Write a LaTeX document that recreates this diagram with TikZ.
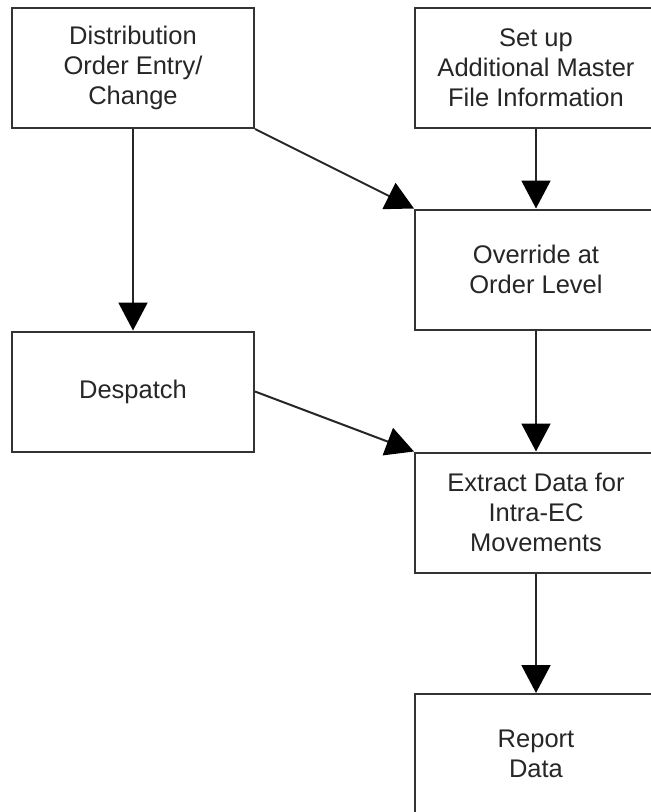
\documentclass[tikz,border=0pt]{standalone}
\usepackage{fontspec}
\setmainfont{Liberation Sans}
\usetikzlibrary{arrows.meta}
\begin{document}
\begin{tikzpicture}[x=1pt,y=-1pt]
    \tikzstyle{box}=[draw=black!80, line width=2pt, minimum width=242pt, minimum height=120pt,
        align=center, font=\fontsize{25.5}{30}\selectfont, text=black!85]
    \tikzstyle{arr}=[draw=black!85, line width=2pt, -{Triangle[length=28pt,width=29pt,fill=black,color=black]}]
    \useasboundingbox (0,0) rectangle (651,812);
    \clip (0,0) rectangle (651,812);
    \node [box] (entry) at (133,68) {Distribution\\Order Entry/\\Change};
    \node [box] (master) at (536,68) {Set up\\Additional Master\\File Information};
    \node [box] (override) at (536,269.5) {Override at\\Order Level};
    \node [box] (despatch) at (133,391.5) {Despatch};
    \node [box] (extract) at (536,512.5) {Extract Data for\\Intra-EC\\Movements};
    \node [box] (report) at (536,754) {Report\\Data};
    \draw [arr] (entry.south) -- (despatch.north);
    \draw [arr] (entry.south east) -- (override.north west);
    \draw [arr] (master.south) -- (override.north);
    \draw [arr] (override.south) -- (extract.north);
    \draw [arr] (despatch.east) -- (extract.north west);
    \draw [arr] (extract.south) -- (report.north);
\end{tikzpicture}
\end{document}
